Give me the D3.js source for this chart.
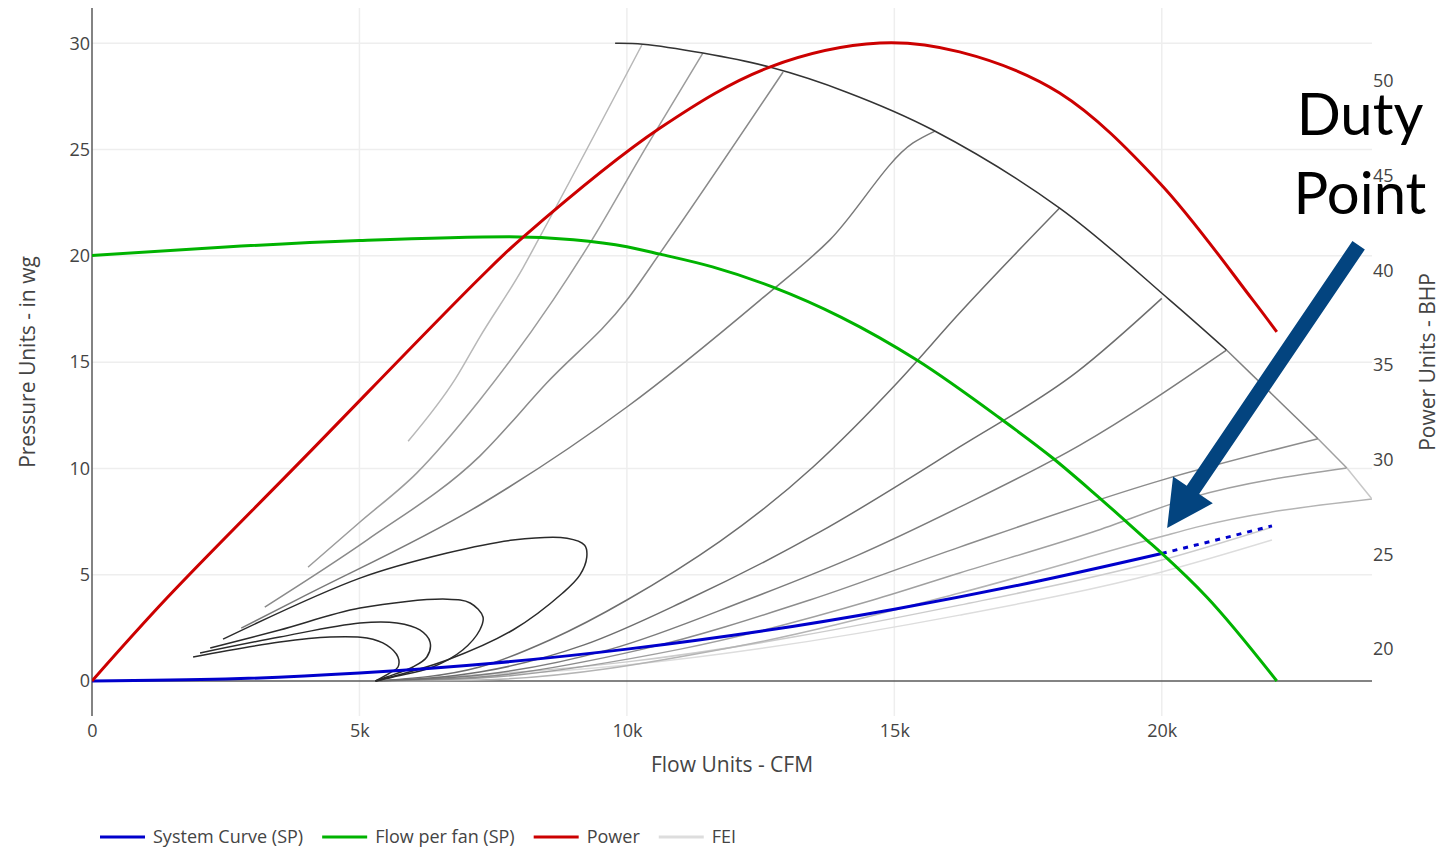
<!DOCTYPE html>
<html>
<head>
<meta charset="utf-8">
<script src="https://cdn.jsdelivr.net/npm/d3@7"></script>
<style>
  html, body { margin: 0; padding: 0; background: #fff; }
  svg { display: block; font-family: "Open Sans", sans-serif; }
</style>
</head>
<body>
<svg id="chart" width="1440" height="850"></svg>
<script>
// ---- tick values ----
const flowTicks = [0, 5000, 10000, 15000, 20000];
const pressureTicks = [0, 5, 10, 15, 20, 25, 30];
const powerTicks = [20, 25, 30, 35, 40, 45, 50];

// ---- series: [flow CFM, value] ----
const systemCurve = [[0, 0], [2500, 0.09], [5000, 0.38], [7500, 0.84], [10000, 1.5],
  [12500, 2.34], [15000, 3.38], [17500, 4.6], [20000, 6.0]];
const systemCurveBeyond = [[20000, 6.0], [21000, 6.62], [22060, 7.3]];

const flowPerFan = [[0, 20.02], [2500, 20.42], [5000, 20.72], [7800, 20.9], [9000, 20.76],
  [10000, 20.43], [10620, 20.08], [11600, 19.48], [12730, 18.53], [14000, 17.12], [15420, 15.1],
  [16970, 12.37], [17960, 10.49], [18710, 8.89], [19720, 6.63], [20000, 6.0], [20840, 3.95],
  [22150, 0]];

const power = [[0, 18.31], [1400, 22.69], [4000, 30.2], [7250, 39.6], [8060, 41.76],
  [10620, 47.52], [12670, 50.74], [14730, 52.01], [16220, 51.54], [18090, 49.37],
  [19960, 44.62], [21700, 38.44], [22150, 36.75]];

// fan curve at full speed (upper boundary of the FEI map)
const fanCurve = [[9780, 30.0], [10300, 29.96], [11420, 29.54], [12670, 28.88], [14110, 27.7],
  [15720, 25.92], [18090, 22.25], [20150, 17.92], [21210, 15.57]];
// lower end of the boundary, one segment per closing FEI contour
const fanCurveTail = [[21210, 15.57], [22920, 11.4], [23460, 10.02], [23930, 8.56]];

// FEI contours: closed loops around the peak
const feiLoop1 = [[2450, 1.97], [5010, 4.84], [6640, 6.02], [7870, 6.63], [8880, 6.72], [9210, 6.39],
  [9250, 5.83], [9120, 4.98], [8800, 4.14], [7870, 2.4], [6640, 0.99], [5300, 0]];
const feiLoop2 = [[2210, 1.55], [3510, 2.4], [5010, 3.43], [6640, 3.85], [7070, 3.67], [7310, 3.01],
  [7250, 2.4], [6930, 1.46], [6370, 0.66], [5630, 0.19], [5300, 0]];
const feiLoop3 = [[2020, 1.32], [3510, 2.07], [5010, 2.73], [5700, 2.73], [6130, 2.4], [6320, 1.83],
  [6260, 1.13], [6000, 0.66], [5510, 0.19], [5300, 0]];
const feiLoop4 = [[1890, 1.13], [3510, 1.83], [4450, 2.07], [5140, 2.02], [5510, 1.69], [5720, 1.13],
  [5720, 0.66], [5570, 0.38], [5300, 0]];
// FEI contours: open lines ending on the fan curve
const feiA = [[5910, 11.28], [6790, 14.2], [7250, 16.18], [8060, 19.45], [8370, 20.88], [10280, 29.92]];
const feiB = [[4040, 5.36], [5010, 7.48], [6070, 9.78], [7250, 13.22], [8620, 17.92], [9310, 20.6],
  [10360, 25.12], [11420, 29.54]];
const feiC = [[3230, 3.48], [5140, 6.63], [7250, 10.58], [8500, 14.02], [10000, 17.92], [10620, 20.13],
  [12920, 28.65]];
const feiD = [[2790, 2.49], [3890, 3.9], [7250, 8.28], [10000, 12.89], [12490, 17.92], [13790, 20.74],
  [15350, 25.31], [15760, 25.87]];
const feiE = [[5300, 0], [7250, 0.66], [8560, 1.93], [10000, 3.81], [13480, 10.07], [15050, 14.02],
  [16220, 17.31], [18090, 22.25]];
const feiF = [[5300, 0], [7250, 0.42], [9200, 1.7], [11120, 3.81], [13600, 7.0], [16220, 11.01],
  [18410, 14.53], [20000, 18.0]];
const feiG = [[5300, 0], [7250, 0.28], [9700, 1.5], [12240, 3.81], [14300, 5.9], [16220, 8.18],
  [18470, 11.1], [21210, 15.57]];
const feiH = [[5300, 0], [7250, 0.19], [10300, 1.5], [13420, 3.81], [16220, 6.3], [20000, 9.45],
  [22920, 11.4]];
const feiI = [[5300, 0], [7250, 0.14], [11000, 1.5], [14600, 3.81], [16220, 5.08], [18710, 7.01],
  [20580, 8.65], [23460, 10.02]];
const feiJ = [[5300, 0], [7250, 0.05], [12000, 1.6], [16220, 4.14], [19960, 6.77], [20650, 7.24],
  [23930, 8.56]];
const feiK = [[5300, 0], [10000, 0.9], [16220, 3.57], [20000, 5.69], [22060, 7.24]];
const feiL = [[5300, 0], [10000, 0.75], [16220, 3.1], [20000, 5.13], [22060, 6.63]];

const feiLines = [feiL, feiK, feiJ, feiI, feiH, feiG, feiF, feiE, feiD, feiC, feiB, feiA];
const feiShades = ["#dddddd", "#cccccc", "#b4b4b4", "#a0a0a0", "#8c8c8c", "#7c7c7c", "#6e6e6e", "#6e6e6e",
  "#7a7a7a", "#8a8a8a", "#9c9c9c", "#b8b8b8"];
const feiLoops = [feiLoop1, feiLoop2, feiLoop3, feiLoop4];
const tailShades = ["#808080", "#a0a0a0", "#c8c8c8"];

const legendItems = ["System Curve (SP)", "Flow per fan (SP)", "Power", "FEI"];
const legendColors = ["#0000cc", "#00b300", "#cc0000", "#dddddd"];

// ---- layout ----
const svg = d3.select("#chart");
const plot = { left: 92, right: 1372, top: 8, bottom: 716 };

const x = d3.scaleLinear().domain([0, 23930]).range([plot.left, plot.right]);
const y = d3.scaleLinear().domain([-1.646, 31.66]).range([plot.bottom, plot.top]);
const yPower = d3.scaleLinear().domain([16.46, 53.86]).range([plot.bottom, plot.top]);

// grid
const grid = svg.append("g").attr("stroke", "#eeeeee").attr("stroke-width", 1.5);
grid.selectAll(".gx").data(flowTicks.filter(d => d !== 0)).join("line")
  .attr("x1", d => x(d)).attr("x2", d => x(d))
  .attr("y1", plot.top).attr("y2", plot.bottom);
grid.selectAll(".gy").data(pressureTicks.filter(d => d !== 0)).join("line")
  .attr("x1", plot.left).attr("x2", plot.right)
  .attr("y1", d => y(d)).attr("y2", d => y(d));

// zero lines
svg.append("line").attr("x1", x(0)).attr("x2", x(0)).attr("y1", plot.top).attr("y2", plot.bottom)
  .attr("stroke", "#5a5a5a").attr("stroke-width", 1.5);
svg.append("line").attr("x1", plot.left).attr("x2", plot.right).attr("y1", y(0)).attr("y2", y(0))
  .attr("stroke", "#5a5a5a").attr("stroke-width", 1.5);

// axes
const tickFont = g => g.selectAll("text").attr("font-size", 18).attr("fill", "#444")
  .attr("font-family", "'Open Sans', sans-serif");
svg.append("g").attr("transform", `translate(0,${plot.bottom})`)
  .call(d3.axisBottom(x).tickValues(flowTicks).tickSize(0).tickPadding(8).tickFormat(d3.format("~s")))
  .call(g => g.select(".domain").remove()).call(tickFont);
svg.append("g").attr("transform", `translate(${plot.left},0)`)
  .call(d3.axisLeft(y).tickValues(pressureTicks).tickSize(0).tickPadding(2))
  .call(g => g.select(".domain").remove()).call(tickFont);
svg.append("g").attr("transform", `translate(${plot.right},0)`)
  .call(d3.axisRight(yPower).tickValues(powerTicks).tickSize(0).tickPadding(1))
  .call(g => g.select(".domain").remove()).call(tickFont);

// axis titles
svg.append("text").attr("x", (plot.left + plot.right) / 2).attr("y", 772)
  .attr("text-anchor", "middle").attr("font-size", 21).attr("fill", "#444").text("Flow Units - CFM");
svg.append("text").attr("transform", `translate(35,${(plot.top + plot.bottom) / 2}) rotate(-90)`)
  .attr("text-anchor", "middle").attr("font-size", 21).attr("fill", "#444").text("Pressure Units - in wg");
svg.append("text").attr("transform", `translate(1435,${(plot.top + plot.bottom) / 2}) rotate(-90)`)
  .attr("text-anchor", "middle").attr("font-size", 21).attr("fill", "#444").text("Power Units - BHP");

// lines
const lineP = d3.line().x(d => x(d[0])).y(d => y(d[1]));
const smoothP = d3.line().x(d => x(d[0])).y(d => y(d[1])).curve(d3.curveMonotoneX);
const loopP = d3.line().x(d => x(d[0])).y(d => y(d[1])).curve(d3.curveCatmullRom.alpha(0.5));
const powerP = d3.line().x(d => x(d[0])).y(d => yPower(d[1])).curve(d3.curveCatmullRom.alpha(0.5));
const fanP = d3.line().x(d => x(d[0])).y(d => y(d[1])).curve(d3.curveCatmullRom.alpha(0.5));

svg.append("clipPath").attr("id", "plotClip").append("rect")
  .attr("x", plot.left).attr("y", plot.top)
  .attr("width", plot.right - plot.left).attr("height", plot.bottom - plot.top + 2);

const traces = svg.append("g").attr("clip-path", "url(#plotClip)").attr("fill", "none");

traces.selectAll(".fei").data(feiLines).join("path")
  .attr("d", smoothP)
  .attr("stroke", (d, i) => feiShades[i]).attr("stroke-width", 1.5);
traces.selectAll(".tail").data(d3.pairs(fanCurveTail)).join("path")
  .attr("d", lineP)
  .attr("stroke", (d, i) => tailShades[i]).attr("stroke-width", 1.5);
traces.selectAll(".loop").data(feiLoops).join("path")
  .attr("d", loopP)
  .attr("stroke", "#2a2a2a").attr("stroke-width", 1.5);

traces.append("path").attr("d", fanP(fanCurve)).attr("stroke", "#333").attr("stroke-width", 1.5);

traces.append("path").attr("d", smoothP(systemCurve)).attr("stroke", legendColors[0]).attr("stroke-width", 3);
traces.append("path").attr("d", lineP(systemCurveBeyond)).attr("stroke", legendColors[0])
  .attr("stroke-width", 3).attr("stroke-dasharray", "5,6");
traces.append("path").attr("d", smoothP(flowPerFan)).attr("stroke", legendColors[1]).attr("stroke-width", 3);
traces.append("path").attr("d", powerP(power)).attr("stroke", legendColors[2]).attr("stroke-width", 3);

// legend
const legend = svg.append("g").attr("transform", "translate(100,837)");
let lx = 0;
legendItems.forEach((name, i) => {
  legend.append("line").attr("x1", lx).attr("x2", lx + 45).attr("y1", 0).attr("y2", 0)
    .attr("stroke", legendColors[i]).attr("stroke-width", 3);
  const t = legend.append("text").attr("x", lx + 53).attr("y", 0).attr("dy", "0.35em")
    .attr("font-size", 18).attr("fill", "#444").text(name);
  lx += 53 + t.node().getComputedTextLength() + 19;
});

// duty point callout
const tip = [x(20100), y(7.2)];
const tail = [x(23680), y(20.5)];
const dx = tip[0] - tail[0], dy = tip[1] - tail[1];
const len = Math.hypot(dx, dy);
const ux = dx / len, uy = dy / len, nx = -uy, ny = ux;
const shaftW = 15, headW = 48, headL = 46;
const bx = tip[0] - ux * headL, by = tip[1] - uy * headL;
const arrowPts = [
  [tail[0] + nx * shaftW / 2, tail[1] + ny * shaftW / 2],
  [bx + nx * shaftW / 2, by + ny * shaftW / 2],
  [bx + nx * headW / 2, by + ny * headW / 2],
  tip,
  [bx - nx * headW / 2, by - ny * headW / 2],
  [bx - nx * shaftW / 2, by - ny * shaftW / 2],
  [tail[0] - nx * shaftW / 2, tail[1] - ny * shaftW / 2]
];
svg.append("path").attr("d", "M" + arrowPts.map(p => p.join(",")).join("L") + "Z")
  .attr("fill", "#03447f");

const callout = svg.append("text").attr("text-anchor", "middle")
  .attr("font-family", "Lato, 'Open Sans', sans-serif").attr("font-size", 58).attr("fill", "#000");
callout.append("tspan").attr("x", 1360).attr("y", 135).text("Duty");
callout.append("tspan").attr("x", 1360).attr("y", 214).text("Point");
</script>
</body>
</html>
